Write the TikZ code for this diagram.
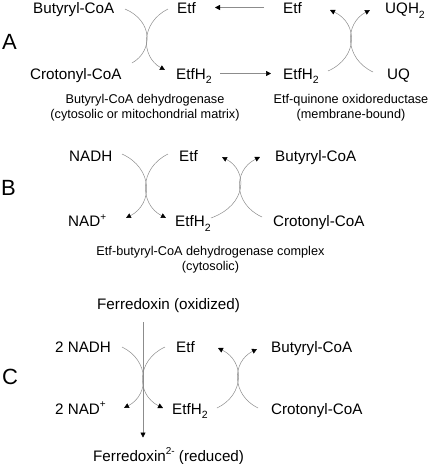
\documentclass[tikz,border=0pt]{standalone}
\usepackage{fontspec}
\setmainfont{Liberation Sans}
\usetikzlibrary{arrows.meta}
\newcommand\lsub[1]{\raisebox{-0.3em}{\fontsize{10.5}{11}\selectfont #1}}
\newcommand\lsup[1]{\raisebox{0.42em}{\fontsize{10}{11}\selectfont #1}}
\begin{document}
\begin{tikzpicture}[x=1pt,y=-1pt,
  lbl/.style={anchor=base west, inner sep=0pt, font=\fontsize{15.2}{18}\selectfont},
  captxt/.style={anchor=base, inner sep=0pt, font=\fontsize{12.7}{15}\selectfont},
  panel/.style={anchor=base west, inner sep=0pt, font=\fontsize{22}{26}\selectfont},
  conn/.style={draw=black!45, line width=0.5pt},
  arrowed/.style={conn, -{Triangle[length=5pt,width=5pt,color=black]}}
]
\path[use as bounding box] (0,0) rectangle (428,464);

% ---------------- Panel A ----------------
\node[panel] (pA) at (2,49) {A};
\node[lbl] (aBut) at (33,13.5) {Butyryl-CoA};
\node[lbl] (aEtf1) at (177,13.5) {Etf};
\node[lbl] (aEtf2) at (283,13.5) {Etf};
\node[lbl] (aUQH) at (385,13.5) {UQH\lsub{2}};
\node[lbl] (aCro) at (30,79) {Crotonyl-CoA};
\node[lbl] (aEtfH1) at (176,79) {EtfH\lsub{2}};
\node[lbl] (aEtfH2) at (283,79) {EtfH\lsub{2}};
\node[lbl] (aUQ) at (387,79) {UQ};
\node[captxt] (capA1) at (145,103.5) {Butyryl-CoA dehydrogenase};
\node[captxt] (capA2) at (145,118.5) {(cytosolic or mitochondrial matrix)};
\node[captxt] (capA3) at (351,103.5) {Etf-quinone oxidoreductase};
\node[captxt] (capA4) at (351,118.5) {(membrane-bound)};

\coordinate (aT1) at (264,7.5); \coordinate (aT2) at (215,7.5);
\coordinate (aM1) at (220,73.5); \coordinate (aM2) at (271,73.5);
\draw[arrowed] (aT1) -- (aT2);
\draw[arrowed] (aM1) -- (aM2);

\coordinate (aL1s) at (125,9);  \coordinate (aL1e) at (132,63);
\coordinate (aR1s) at (168,9);  \coordinate (aR1e) at (165,70);
\draw[conn] (aL1s) .. controls (153.2,20.9) and (153.2,51.1) .. (aL1e);
\draw[arrowed] (aR1s) .. controls (140.5,22.4) and (140.5,56.6) .. (aR1e);

\coordinate (aL2s) at (328,71); \coordinate (aL2e) at (330,10);
\coordinate (aR2s) at (373,72); \coordinate (aR2e) at (370,10);
\draw[arrowed] (aL2s) .. controls (358.3,57.6) and (358.3,23.4) .. (aL2e);
\draw[arrowed] (aR2s) .. controls (344.2,58.4) and (344.2,23.6) .. (aR2e);

% ---------------- Panel B ----------------
\node[panel] (pB) at (1,195) {B};
\node[lbl] (bNADH) at (69,161.5) {NADH};
\node[lbl] (bEtf) at (179,161.5) {Etf};
\node[lbl] (bBut) at (275,161.5) {Butyryl-CoA};
\node[lbl] (bNAD) at (68,226.5) {NAD\lsup{+}};
\node[lbl] (bEtfH) at (175,226.5) {EtfH\lsub{2}};
\node[lbl] (bCro) at (273,226.5) {Crotonyl-CoA};
\node[captxt] (capB1) at (210.5,255) {Etf-butyryl-CoA dehydrogenase complex};
\node[captxt] (capB2) at (210.5,270) {(cytosolic)};

\coordinate (bL1s) at (122,154); \coordinate (bL1e) at (126,218);
\coordinate (bR1s) at (168,154); \coordinate (bR1e) at (166,218);
\draw[arrowed] (bL1s) .. controls (153.3,168.1) and (153.3,203.9) .. (bL1e);
\draw[arrowed] (bR1s) .. controls (139,168.1) and (139,203.9) .. (bR1e);
\coordinate (bL2s) at (211,218); \coordinate (bL2e) at (222,157);
\coordinate (bR2s) at (262,217); \coordinate (bR2e) at (260,157);
\draw[arrowed] (bL2s) .. controls (247.8,204.6) and (247.8,170.4) .. (bL2e);
\draw[arrowed] (bR2s) .. controls (233,203.8) and (233,170.2) .. (bR2e);

% ---------------- Panel C ----------------
\node[panel] (pC) at (2,384) {C};
\node[lbl] (cFox) at (97,309) {Ferredoxin (oxidized)};
\node[lbl] (cNADH) at (55,352.5) {2 NADH};
\node[lbl] (cEtf) at (176,352.5) {Etf};
\node[lbl] (cBut) at (271,352.5) {Butyryl-CoA};
\node[lbl] (cNAD) at (55,414) {2 NAD\lsup{+}};
\node[lbl] (cEtfH) at (172,414) {EtfH\lsub{2}};
\node[lbl] (cCro) at (271,414) {Crotonyl-CoA};
\node[lbl] (cFred) at (93,461) {Ferredoxin\lsup{2-} (reduced)};

\coordinate (cV1) at (143,322); \coordinate (cV2) at (143,437.5);
\draw[arrowed] (cV1) -- (cV2);

\coordinate (cL1s) at (122,347); \coordinate (cL1e) at (124,408);
\coordinate (cR1s) at (165,347); \coordinate (cR1e) at (163,408);
\draw[arrowed] (cL1s) .. controls (149.7,360.4) and (149.7,394.6) .. (cL1e);
\draw[arrowed] (cR1s) .. controls (136,360.4) and (136,394.6) .. (cR1e);
\coordinate (cL2s) at (217,408); \coordinate (cL2e) at (218,348);
\coordinate (cR2s) at (258,408); \coordinate (cR2e) at (257,349);
\draw[arrowed] (cL2s) .. controls (244.8,394.8) and (244.8,361.2) .. (cL2e);
\draw[arrowed] (cR2s) .. controls (231.5,395) and (231.5,362) .. (cR2e);
\end{tikzpicture}
\end{document}
